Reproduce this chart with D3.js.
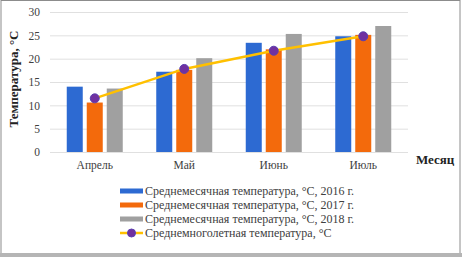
<!DOCTYPE html>
<html>
<head>
<meta charset="utf-8">
<script src="https://cdn.jsdelivr.net/npm/d3@7"></script>
<style>
  html, body { margin: 0; padding: 0; background: #fff; }
  svg { display: block; }
</style>
</head>
<body>
<svg id="chart" width="462" height="257"></svg>
<script>
const months = ["Апрель", "Май", "Июнь", "Июль"];
const t2016 = [14.0, 17.2, 23.4, 24.8];
const t2017 = [10.6, 17.6, 22.0, 25.1];
const t2018 = [13.6, 20.1, 25.3, 27.0];
const tMean = [11.5, 17.8, 21.7, 24.8];
const yTicks = [0, 5, 10, 15, 20, 25, 30];
const seriesNames = [
    "Среднемесячная температура, °С, 2016 г.",
    "Среднемесячная температура, °С, 2017 г.",
    "Среднемесячная температура, °С, 2018 г.",
    "Среднемноголетная температура, °С"
];
const colors = ["#2D6AD2", "#F36A0C", "#A0A0A0"];

const svg = d3.select("#chart");
const font = "'Liberation Serif', 'Times New Roman', serif";

// рамка
svg.append("rect").attr("x", 1).attr("y", 0.5).attr("width", 459).attr("height", 253)
    .attr("fill", "#fff").attr("stroke", "#8c8c8c").attr("stroke-width", 1);
svg.append("rect").attr("x", 0).attr("y", 253).attr("width", 462).attr("height", 4)
    .attr("fill", "#b5b5b5");

const x = d3.scaleBand().domain(months).range([50, 408]);
const xs = d3.scaleBand().domain([0, 1, 2]).range([0, 56]).paddingInner(0.2);
const y = d3.scaleLinear().domain([0, 30]).range([152, 12]);

// сетка
svg.append("g").selectAll("line").data(yTicks).join("line")
    .attr("x1", 50).attr("x2", 408)
    .attr("y1", d => y(d) + 0.5).attr("y2", d => y(d) + 0.5)
    .attr("stroke", "#e0e0e0").attr("stroke-width", 1);

// ось Y
const yAxis = svg.append("g").attr("transform", "translate(50,0)")
    .call(d3.axisLeft(y).tickValues(yTicks).tickSize(0).tickPadding(10));
yAxis.select(".domain").remove();
yAxis.selectAll("text").attr("font-family", font).attr("font-size", 11.5).attr("fill", "#404040");

// ось X
const xAxis = svg.append("g").attr("transform", "translate(0,152)")
    .call(d3.axisBottom(x).tickSize(0).tickPadding(9));
xAxis.select(".domain").remove();
xAxis.selectAll("text").attr("font-family", font).attr("font-size", 11.5).attr("fill", "#404040");

// столбцы
const bars = [t2016, t2017, t2018];
bars.forEach((vals, si) => {
    svg.append("g").selectAll("rect").data(vals).join("rect")
        .attr("x", (d, i) => x(months[i]) + (x.bandwidth() - 56) / 2 + xs(si))
        .attr("width", xs.bandwidth())
        .attr("y", d => y(d))
        .attr("height", d => y(0) - y(d))
        .attr("fill", colors[si]);
});

// линия
const cx = (d, i) => x(months[i]) + x.bandwidth() / 2;
svg.append("path").datum(tMean)
    .attr("fill", "none").attr("stroke", "#FFC000").attr("stroke-width", 2.5)
    .attr("d", d3.line().x(cx).y(d => y(d)));
svg.append("g").selectAll("circle").data(tMean).join("circle")
    .attr("cx", cx).attr("cy", d => y(d)).attr("r", 4.5)
    .attr("fill", "#7030A0").attr("stroke", "#5a3fb0").attr("stroke-width", 1);

// подписи осей
svg.append("text")
    .attr("transform", "translate(18,79) rotate(-90)")
    .attr("text-anchor", "middle")
    .attr("font-family", font).attr("font-size", 13).attr("font-weight", "bold")
    .attr("fill", "#222")
    .text("Температура, °С");
svg.append("text").attr("x", 416).attr("y", 164)
    .attr("font-family", font).attr("font-size", 13).attr("font-weight", "bold")
    .attr("fill", "#222")
    .text("Месяц");

// легенда
const legend = svg.append("g").selectAll("g").data(seriesNames).join("g")
    .attr("transform", (d, i) => `translate(120,${191 + i * 14})`);
legend.each(function(d, i) {
    const g = d3.select(this);
    if (i < 3) {
        g.append("rect").attr("x", 0).attr("y", -2.5).attr("width", 23).attr("height", 5)
            .attr("fill", colors[i]);
    } else {
        g.append("line").attr("x1", 0).attr("x2", 23).attr("y1", 0).attr("y2", 0)
            .attr("stroke", "#FFC000").attr("stroke-width", 2.5);
        g.append("circle").attr("cx", 11.5).attr("cy", 0).attr("r", 4)
            .attr("fill", "#7030A0").attr("stroke", "#5a3fb0");
    }
    g.append("text").attr("x", 25).attr("y", 4)
        .attr("font-family", font).attr("font-size", 12).attr("fill", "#404040")
        .text(d);
});
</script>
</body>
</html>
